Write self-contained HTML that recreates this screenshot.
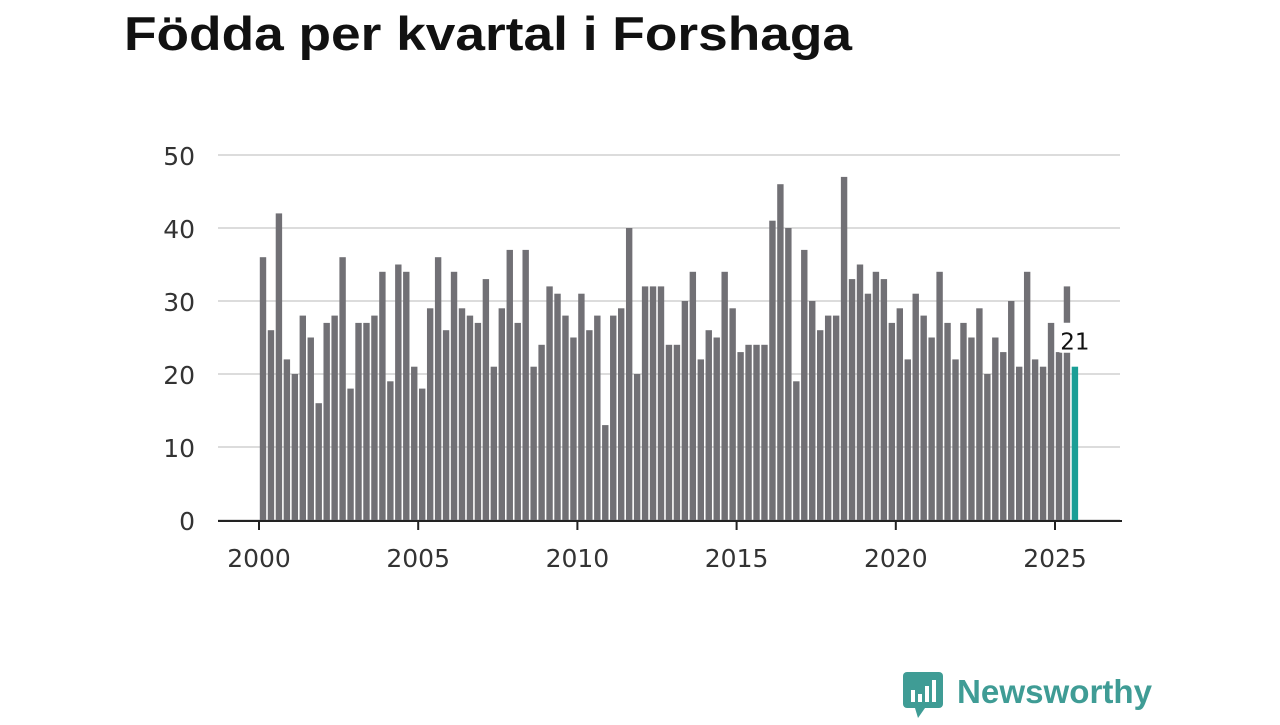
<!DOCTYPE html>
<html><head><meta charset="utf-8"><style>
body{margin:0;background:#fff;width:1280px;height:720px;overflow:hidden;font-family:"Liberation Sans",sans-serif}
</style></head><body>
<svg width="1280" height="720">
<text x="124" y="50" font-size="47" font-weight="bold" fill="#111" textLength="728" lengthAdjust="spacingAndGlyphs">Födda per kvartal i Forshaga</text>
<g id="grid"></g><g id="bars"></g><g id="axes"></g>
<g>
<rect x="903" y="672" width="40" height="36" rx="4" fill="#3f9c95"/>
<polygon points="915,708 925,708 918,718" fill="#3f9c95"/>
<rect x="911" y="690" width="4" height="12" fill="#fff"/><rect x="918" y="694" width="4" height="8" fill="#fff"/><rect x="925" y="686" width="4" height="16" fill="#fff"/><rect x="932" y="680" width="4" height="22" fill="#fff"/>
<text x="957" y="703" font-size="33" font-weight="bold" fill="#3f9c95" textLength="195" lengthAdjust="spacingAndGlyphs">Newsworthy</text>
</g>
</svg>
<script>
const startYear=2000;
const values=[36,26,42,22,20,28,25,16,27,28,36,18,27,27,28,34,19,35,34,21,18,29,36,26,34,29,28,27,33,21,29,37,27,37,21,24,32,31,28,25,31,26,28,13,28,29,40,20,32,32,32,24,24,30,34,22,26,25,34,29,23,24,24,24,41,46,40,19,37,30,26,28,28,47,33,35,31,34,33,27,29,22,31,28,25,34,27,22,27,25,29,20,25,23,30,21,34,22,21,27,23,32,21];
const yTicks=[0,10,20,30,40,50];
const xTicks=[2000,2005,2010,2015,2020,2025];
const NS='http://www.w3.org/2000/svg';
const F='"DejaVu Sans",sans-serif';
const x=t=>259+(t-2000)*31.84;
const y=v=>520-v*7.3;
function mk(tag,attrs,parent){const e=document.createElementNS(NS,tag);for(const k in attrs)e.setAttribute(k,attrs[k]);document.getElementById(parent).appendChild(e);return e;}
yTicks.forEach(t=>{
 const l=mk('line',{x1:218,x2:1120,y1:y(t),y2:y(t),stroke:'#dcdcdc','stroke-width':2},'grid');
 
 
 const tx=mk('text',{x:195,y:y(t)+10,'font-size':25,'font-family':F,fill:'#333','text-anchor':'end'},'axes');tx.textContent=t;
 
 
});
values.forEach((v,i)=>{
 const t=startYear+i/4;const last=i===values.length-1;
 const r=mk('rect',{x:x(t)+0.8,y:y(v),width:6.4,height:y(0)-y(v),fill:last?'#1a9e96':'#717075'},'bars');
 
 
});
const ax=mk('line',{x1:218,x2:1122,y1:521,y2:521,stroke:'#222','stroke-width':2},'axes');


xTicks.forEach(t=>{
 const tk=mk('line',{x1:x(t),x2:x(t),y1:521,y2:530,stroke:'#222','stroke-width':2},'axes');
 
 
 const tx=mk('text',{x:x(t),y:567,'font-size':25,'font-family':F,fill:'#333','text-anchor':'middle'},'axes');tx.textContent=t;
 
 
});
const li=values.length-1,lv=values[li],lx=x(startYear+li/4)+4;
const bg=mk('rect',{x:lx-18,y:y(lv)-44,width:36,height:30,rx:4,fill:'#fff'},'axes');


const lt=mk('text',{x:lx,y:y(lv)-17,'font-size':23,'font-family':F,fill:'#111','text-anchor':'middle'},'axes');lt.textContent=lv;


</script>
</body></html>
